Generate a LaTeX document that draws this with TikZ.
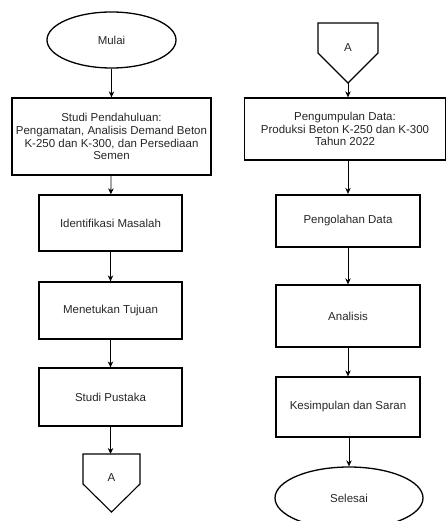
\documentclass[tikz,border=0pt]{standalone}
\usepackage{fontspec}
\setmainfont{Liberation Sans}
\usetikzlibrary{shapes.geometric,arrows.meta}
\begin{document}
\begin{tikzpicture}[x=1pt,y=-1pt,
  every node/.style={font=\fontsize{11.5}{12.8}\selectfont, text=black!85},
  box/.style={draw, line width=1.3pt, rectangle, align=center, inner sep=0pt},
  oval/.style={draw, line width=1.3pt, ellipse, inner sep=0pt},
  conn/.style={draw, line width=1.1pt, line join=miter},
  arr/.style={line width=0.8pt, -{Stealth[length=6pt,width=5.5pt]}}]
\useasboundingbox (0,0) rectangle (446,521);
% left column
\node[oval, minimum width=129pt, minimum height=56pt] (mulai) at (111.5,40) {Mulai};
\node[box, minimum width=199pt, minimum height=77pt] (sp) at (111.5,136.5) {Studi Pendahuluan:\\Pengamatan, Analisis Demand Beton\\K-250 dan K-300, dan Persediaan\\Semen};
\node[box, minimum width=143pt, minimum height=56pt] (im) at (110.5,223) {Identifikasi Masalah};
\node[box, minimum width=143pt, minimum height=57pt] (mt) at (110.5,310.5) {Menetukan Tujuan};
\node[box, minimum width=143pt, minimum height=58pt] (pus) at (110.5,397) {Studi Pustaka};
\path[conn] (83,454) -- (140,454) -- (140,484) -- (111.5,512) -- (83,484) -- cycle;
\coordinate (a1top) at (110.5,454);
\node (a1) at (111.5,478) {A};
% right column
\path[conn] (318,23) -- (378,23) -- (378,53) -- (348,83) -- (318,53) -- cycle;
\coordinate (a2tip) at (348,83);
\node (a2) at (348,48) {A};
\node[box, minimum width=201pt, minimum height=62pt] (pd) at (345,129) {Pengumpulan Data:\\Produksi Beton K-250 dan K-300\\Tahun 2022};
\node[box, line width=2.3pt, minimum width=144pt, minimum height=52pt] (po) at (348,221) {Pengolahan Data};
\node[box, minimum width=144pt, minimum height=62pt] (an) at (348,316) {Analisis};
\node[box, minimum width=144pt, minimum height=60pt] (ks) at (348,407) {Kesimpulan dan Saran};
\node[oval, minimum width=148pt, minimum height=62pt] (sl) at (349,498) {Selesai};
% arrows
\draw[arr] (mulai) -- (sp);
\draw[arr] (sp) -- (im);
\draw[arr] (im) -- (mt);
\draw[arr] (mt) -- (pus);
\draw[arr] (pus) -- (a1top);
\draw[arr] (a2tip) -- (pd.north -| a2tip);
\draw[arr] (pd.south -| po) -- (po);
\draw[arr] (po) -- (an);
\draw[arr] (an) -- (ks);
\draw[arr] (ks.south -| sl) -- (sl);
\end{tikzpicture}
\end{document}
